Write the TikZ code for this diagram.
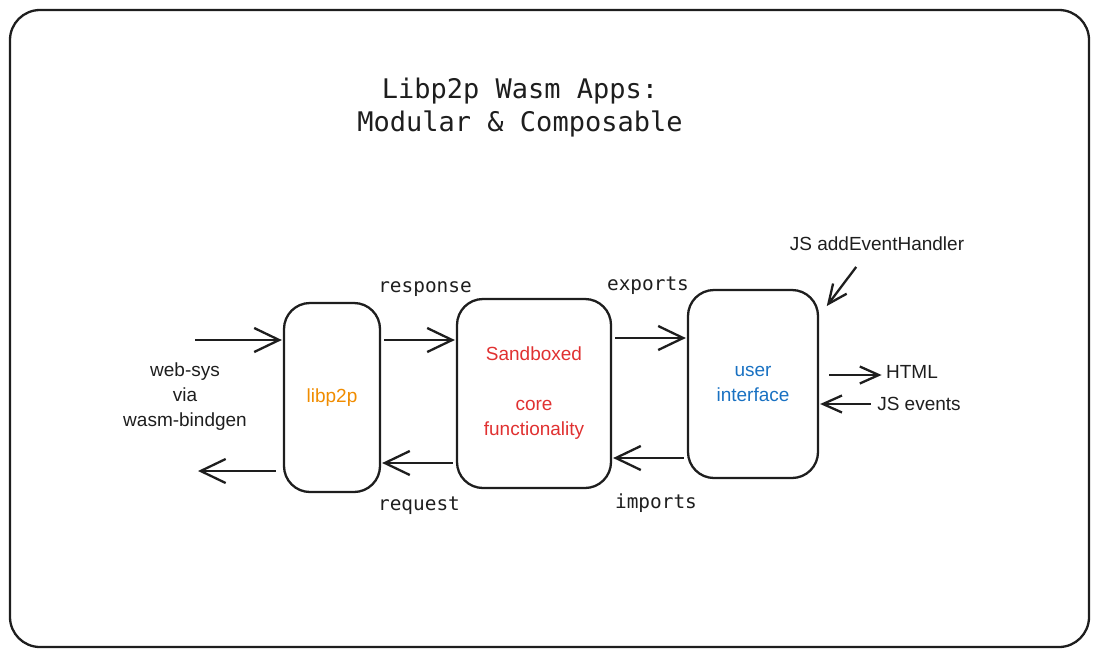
\documentclass[tikz,border=0pt]{standalone}
\usepackage{fontspec}
\newfontfamily\codefont{DejaVu Sans Mono}
\newfontfamily\handfont{Liberation Sans}
\usetikzlibrary{arrows.meta,scopes}
\definecolor{ink}{HTML}{1E1E1E}
\definecolor{libcol}{HTML}{F08C00}
\definecolor{corecol}{HTML}{E03131}
\definecolor{uicol}{HTML}{1971C2}

\begin{document}
\begin{tikzpicture}[
    x=1pt,y=-1pt,
    box/.style={draw=ink,line width=2.3pt,rounded corners=26pt,align=center,inner sep=0pt,
        font=\handfont\fontsize{19}{25}\selectfont},
    arr/.style={draw=ink,line width=2.3pt,shorten <=3pt,shorten >=1pt,
        -{Straight Barb[length=25pt,width=24pt,line width=2.3pt]}},
    smallarr/.style={-{Straight Barb[length=19pt,width=17pt,line width=2.3pt]}},
    lbl/.style={font=\codefont\fontsize{19.4}{24}\selectfont,text=ink},
    hand/.style={font=\handfont\fontsize{19}{25}\selectfont,text=ink,align=center},
]
    \useasboundingbox (0,0) rectangle (1099,657);
    \draw[ink,line width=2.3pt,rounded corners=30pt] (10,10) rectangle (1089,647);

    \node[font=\codefont\fontsize{27}{33}\selectfont,text=ink,align=center] (title) at (520,108)
        {Libp2p Wasm Apps:\\Modular \& Composable};

    % boxes
    \node[box,minimum width=96pt,minimum height=189pt,text=libcol] (libp2p) at (332,397.5) {libp2p};
    \node[box,minimum width=154pt,minimum height=189pt,text=corecol] (core) at (534,393.5)
        {Sandboxed\\[25pt]core\\functionality};
    \node[box,minimum width=130pt,minimum height=188pt,text=uicol] (ui) at (753,384) {user\\interface};

    % labels
    \node[lbl] (resp) at (425,289) {response};
    \node[lbl] (req) at (419,506) {request};
    \node[lbl] (exp) at (648,286) {exports};
    \node[lbl] (imp) at (656,503) {imports};
    \node[hand] (websys) at (185,397) {web-sys\\via\\wasm-bindgen};
    \node[hand] (html) at (912,372) {HTML};
    \node[hand] (jsev) at (919,404) {JS events};
    \node[hand] (jsadd) at (877,244) {JS addEventHandler};

    \coordinate (in) at (195,340);
    \coordinate (out) at (197,471);
    \coordinate (back) at (0,463);
    \coordinate (fwd) at (0,338);
    \coordinate (ret) at (0,458);
    \coordinate (hl) at (0,375);

    {[arr]
        \draw[shorten <=0pt] (in) -- (in -| libp2p.west);
        \draw[shorten <=7pt] (out -| libp2p.west) -- (out);
        \draw (libp2p.east |- in) -- (core.west |- in);
        \draw (core.west |- back) -- (libp2p.east |- back);
        \draw (core.east |- fwd) -- (ui.west |- fwd);
        \draw (ui.west |- ret) -- (core.east |- ret);
        \draw[smallarr,shorten <=10pt] (ui.east |- hl) -- (hl -| html.west);
        \draw[smallarr] (jsev.west) -- (ui.east |- jsev);
        \draw[smallarr] ([xshift=-19pt,yshift=-10pt]jsadd.south) -- ([shift={(7,18)}]ui.north east);
    }
\end{tikzpicture}
\end{document}
